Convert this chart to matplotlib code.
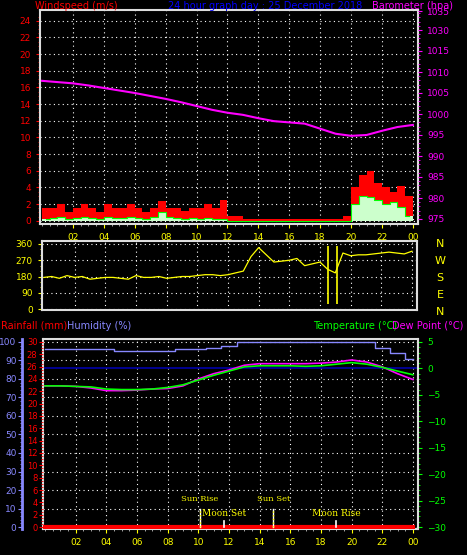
import matplotlib
matplotlib.use("Agg")
import matplotlib.pyplot as plt
import numpy as np

W, H = 467, 555
fs = 6.5
plt.rcParams['font.family'] = 'DejaVu Sans'

# ---------------- data ----------------
hours = list(range(25))
half = [i * 0.5 for i in range(49)]
pressure = [1007.9, 1007.6, 1007.3, 1006.8, 1006.2, 1005.6, 1005.0, 1004.3, 1003.6, 1002.8,
            1001.9, 1001.0, 1000.3, 999.8, 999.0, 998.3, 998.0, 997.7, 996.5, 995.3,
            994.8, 995.0, 996.0, 996.9, 997.4]
gust = [1.5, 1.5, 2.0, 1.0, 1.5, 2.0, 1.5, 1.0, 2.0, 1.5, 1.5, 2.0, 1.5, 1.0, 1.5, 2.4,
        1.5, 1.5, 1.2, 1.5, 1.5, 2.0, 1.5, 2.5,
        0.6, 0.6, 0.2, 0.2, 0.2, 0.2, 0.2, 0.2, 0.2, 0.2, 0.2, 0.2, 0.2, 0.2, 0.2, 0.6,
        4.0, 5.5, 6.0, 4.5, 4.0, 3.5, 4.2, 3.0]
avg = [0.2, 0.3, 0.4, 0.2, 0.3, 0.4, 0.3, 0.2, 0.4, 0.3, 0.3, 0.4, 0.3, 0.2, 0.4, 1.0,
       0.5, 0.3, 0.2, 0.3, 0.2, 0.3, 0.2, 0.2,
       0, 0, 0, 0, 0, 0, 0, 0, 0, 0, 0, 0, 0, 0, 0, 0,
       2.0, 3.0, 2.8, 2.5, 2.0, 2.2, 1.6, 0.6]
direction = [175, 180, 170, 185, 175, 180, 165, 170, 175, 175, 170, 165, 185, 175, 175, 180,
             170, 175, 180, 180, 185, 190, 190, 185, 190, 200, 210, 290, 340, 300, 260, 265,
             270, 280, 240, 250, 260, 220, 200, 310, 295, 300, 300, 305, 310, 315, 310, 305, 320]
spike_times = [18.5, 19.1]
spike_low = [30, 30]
humidity = [96, 96, 96, 96, 96, 95, 95, 95, 95, 96, 96, 97, 98, 100, 100, 100, 100, 100,
            100, 100, 100, 100, 97, 94, 91]
temperature = [-3.3, -3.3, -3.4, -3.5, -3.9, -4.0, -4.0, -3.9, -3.6, -3.1, -2.2, -1.3, -0.5,
               0.3, 0.5, 0.5, 0.5, 0.4, 0.5, 0.8, 1.1, 0.8, 0.2, -0.5, -1.2]
dewpoint = [-3.3, -3.3, -3.4, -3.7, -4.2, -4.2, -4.1, -3.9, -3.8, -3.3, -2.0, -1.0, -0.3,
            0.6, 0.9, 0.9, 0.9, 0.9, 1.0, 1.2, 1.6, 1.2, 0.3, -1.0, -2.1]
rainfall = [0] * 25
x_labels = ['02', '04', '06', '08', '10', '12', '14', '16', '18', '20', '22', '00']
events = ['Sun Rise', 'Moon Set', 'Sun Set', 'Moon Rise']
event_times = [10.1, 11.7, 14.9, 19.0]

YEL = '#ffff00'
fig = plt.figure(figsize=(W / 100, H / 100), dpi=100, facecolor='black')

def rect(l, t, r, b):
    return [l / W, 1 - b / H, (r - l) / W, (b - t) / H]

x0, x1 = -0.13, 24.33
xt = list(range(2, 25, 2))

def style(ax):
    ax.set_facecolor('black')
    for s in ax.spines.values():
        s.set_color('#dddddd'); s.set_linewidth(1.5)
    ax.set_xlim(x0, x1)
    ax.set_xticks(xt)
    ax.set_xticks(np.arange(0, 24.01, 0.5), minor=True)
    ax.grid(True, color='white', linestyle=(0, (1, 3)), linewidth=0.8)

# ---------------- top panel ----------------
ax = fig.add_axes(rect(40, 10, 418, 224))
style(ax)
ax.set_ylim(-0.4, 25.3)
ax.set_yticks(range(0, 25, 2))
ax.set_yticks(np.arange(0, 25, 0.5), minor=True)
ax.tick_params(axis='y', colors='red', labelsize=fs, length=3, which='both')
ax.tick_params(axis='y', which='minor', length=1.5)
ax.tick_params(axis='x', colors=YEL, labelsize=fs, length=3, which='both')
ax.tick_params(axis='x', which='minor', length=1.5, color='#bbbbbb')
ax.set_xticklabels(x_labels)
ax.bar(np.array(half[:48]) + 0.25, gust, width=0.5, color='red', zorder=3)
ax.bar(np.array(half[:48]) + 0.25, avg, width=0.5, color='#ccffcc', zorder=4)
ax.plot(np.array(half[:48]) + 0.25, avg, color='#00ff00', lw=0.8, zorder=5, drawstyle='steps-mid')
axp = ax.twinx()
axp.set_ylim(975 - 5 / 4.2, 975 + 209 / 4.2)
axp.plot(hours, pressure, color='#ff00ff', lw=1.5)
pt = [975, 980, 985, 990, 995, 1000, 1005, 1010, 1015, 1020, 1024.5]
axp.set_yticks(pt)
axp.set_yticklabels(['975', '980', '985', '990', '995', '1000', '1005', '1010', '1015', '1030', '1035'])
axp.set_yticks(np.arange(975, 1025, 1), minor=True)
axp.tick_params(axis='y', colors='#ff00ff', labelsize=fs, length=3, which='both')
axp.tick_params(axis='y', which='minor', length=1.5)
for s in axp.spines.values():
    s.set_visible(False)

fig.text(35 / W, 1 - 6 / H, 'Windspeed (m/s)', color='red', fontsize=7, va='center')
fig.text(265 / W, 1 - 6 / H, '24 hour graph day : 25 December 2018', color='#0000ff', fontsize=7, va='center', ha='center')
fig.text(372 / W, 1 - 6 / H, 'Barometer (hpa)', color='#ff00ff', fontsize=7, va='center')

# ---------------- direction panel ----------------
ad = fig.add_axes(rect(42, 241, 417, 310))
style(ad)
ad.set_ylim(-5.5, 376.6)
ad.set_yticks([0, 90, 180, 270, 360])
ad.set_yticks(np.arange(0, 361, 30), minor=True)
ad.set_xticklabels([])
ad.tick_params(axis='x', length=0, which='both')
ad.tick_params(axis='y', colors=YEL, labelsize=fs, length=3, which='both')
ad.tick_params(axis='y', which='minor', length=1.5)
ad.plot(half, direction, color=YEL, lw=0.9)
ad.vlines(spike_times, spike_low, 350, color=YEL, lw=1.2)
for i, c in enumerate('NWSEN'):
    fig.text(440 / W, 1 - (244 + 17 * i) / H, c, color=YEL, fontsize=8, ha='center', va='center')

# ---------------- bottom panel ----------------
ab = fig.add_axes(rect(43, 339, 418, 529))
style(ab)
tlo, thi = -30 - 2 / 5.286, 5 + 3 / 5.286
ab.set_ylim(tlo, thi)

ar = ab.twinx()
ar.yaxis.tick_left(); ar.yaxis.set_label_position('left')
ar.set_ylim((tlo + 30) * 30 / 35, (thi + 30) * 30 / 35)
ar.set_yticks(range(0, 31, 2))
ar.set_yticks(np.arange(0, 30.1, 0.5), minor=True)
ar.tick_params(axis='y', colors='red', labelsize=fs - 0.5, length=3, which='both', pad=1)
ar.tick_params(axis='y', which='minor', length=1.5)
for s in ar.spines.values():
    s.set_visible(False)
ah = ab.twinx()
ah.yaxis.tick_left()
ah.spines['left'].set_position(('outward', 15))
for k, s in ah.spines.items():
    s.set_visible(k == 'left')
ah.spines['left'].set_color('#8888ff'); ah.spines['left'].set_linewidth(2)
ah.set_ylim((tlo + 30) * 100 / 35, (thi + 30) * 100 / 35)
ah.set_yticks(range(0, 101, 10))
ah.set_yticks(range(0, 101, 2), minor=True)
ah.tick_params(axis='y', colors='#8888ff', labelsize=fs, length=3, which='both', pad=1)
ah.tick_params(axis='y', which='minor', length=1.5)

ab.yaxis.tick_right()
ab.set_yticks(range(-30, 6, 5))
ab.set_yticks(range(-30, 6, 1), minor=True)
ab.tick_params(axis='y', colors='#00ff00', labelsize=fs, length=3, which='both')
ab.tick_params(axis='y', which='minor', length=1.5)
ab.tick_params(axis='x', colors=YEL, labelsize=fs, length=3, which='both')
ab.tick_params(axis='x', which='minor', length=1.5, color='#bbbbbb')
ab.set_xticklabels(x_labels)
ab.grid(False, axis='y')
for hv in range(0, 101, 10):
    ab.axhline(hv * 0.35 - 30, color='white', linestyle=(0, (1, 3)), lw=0.8)
ab.axhline(0, color='#0000aa', lw=1.2)
ab.plot(hours, [h * 0.35 - 30 for h in humidity], color='#8888ff', lw=1.0, drawstyle='steps-mid')
ab.plot(hours, dewpoint, color='#ff00ff', lw=1.2)
ab.plot(hours, temperature, color='#00ff00', lw=1.2)
ab.plot(hours, [r * 35 / 30 - 30 for r in rainfall], color='red', lw=3, zorder=6)
for name, t in zip(events, event_times):
    if name.startswith('Sun'):
        ab.plot([t, t], [-30, -26.5], color='white', lw=1, zorder=7)
        ab.plot([t, t], [-30, -26.5], color=YEL, lw=1, ls=':', zorder=8)
        ab.text(t, -25.5, name, color=YEL, fontsize=6, ha='center', va='bottom', family='DejaVu Serif')
    else:
        ab.plot([t, t], [-30, -28.8], color='white', lw=1.2, zorder=7)
        ab.text(t, -28.3, name, color=YEL, fontsize=6.5, ha='center', va='bottom', family='DejaVu Serif')

fig.text(1 / W, 1 - 326 / H, 'Rainfall (mm)', color='red', fontsize=7, va='center')
fig.text(67 / W, 1 - 326 / H, 'Humidity (%)', color='#8888ff', fontsize=7, va='center')
fig.text(313 / W, 1 - 326 / H, 'Temperature (°C)', color='#00ff00', fontsize=7, va='center')
fig.text(392 / W, 1 - 326 / H, 'Dew Point (°C)', color='#ff00ff', fontsize=7, va='center')

fig.savefig('out.png', dpi=100, facecolor='black')
